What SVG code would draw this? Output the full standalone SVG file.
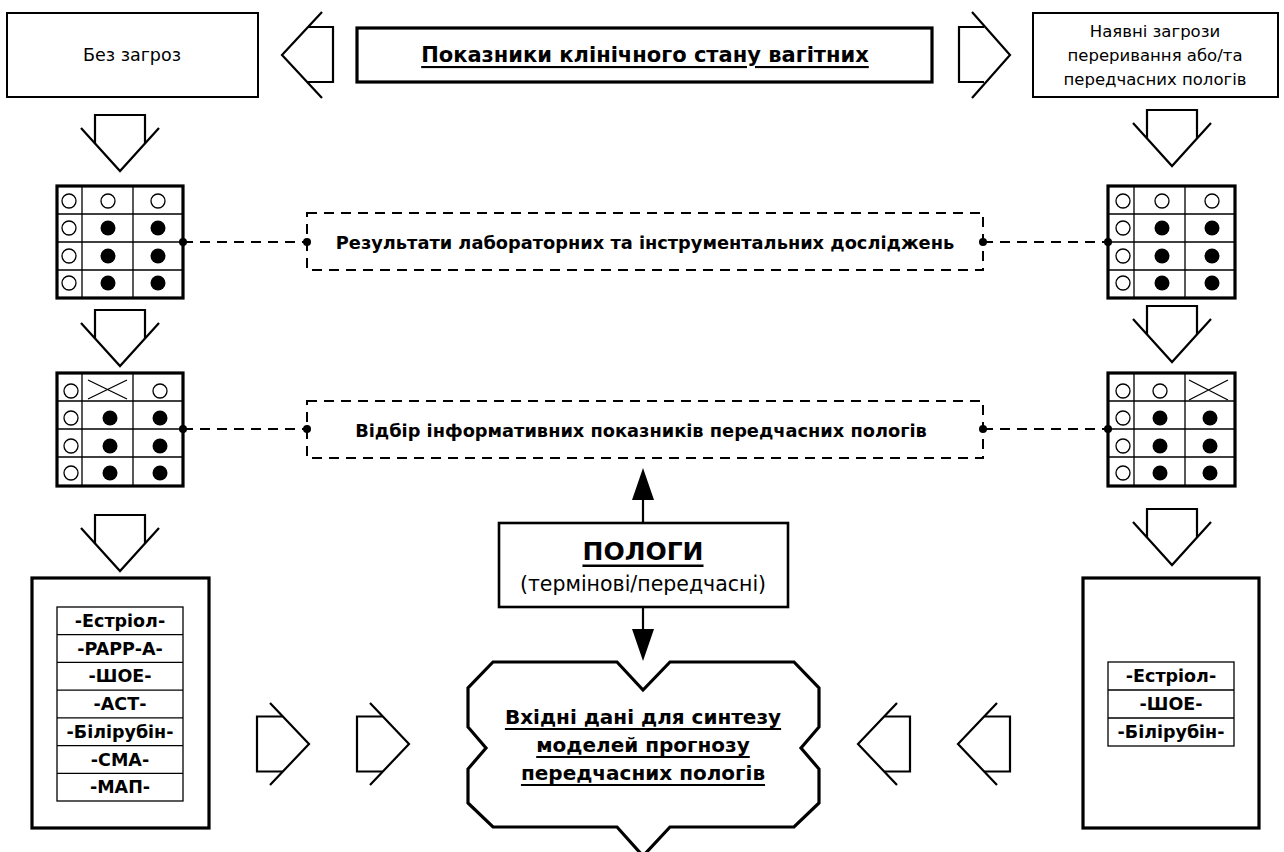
<svg xmlns="http://www.w3.org/2000/svg" width="1284" height="852" viewBox="0 0 1284 852">
<style>
.bg{fill:#fff}
.box{fill:#fff;stroke:#000;stroke-width:2}
.thick{fill:#fff;stroke:#000;stroke-width:3.2}
.ln{fill:none;stroke:#000;stroke-width:2.2;stroke-linejoin:miter}
.thin{fill:none;stroke:#000;stroke-width:1.3}
.dash{fill:none;stroke:#000;stroke-width:2;stroke-dasharray:10 7}
.oc{fill:#fff;stroke:#000;stroke-width:1.3}
.fc{fill:#000}
.t{font-family:"DejaVu Sans",Verdana,sans-serif;fill:#000;text-anchor:middle;dominant-baseline:central}
.n15{font-size:16.5px}
.b16{font-size:17.8px;font-weight:bold}
.b15{font-size:17.5px;font-weight:bold}
.u{text-decoration:underline}
</style>
<defs>
<g id="darrow">
<path class="ln" d="M-25,28.4 V0 H25 V28.4"/>
<path class="ln" d="M-39,13 L0,56 L39,13"/>
</g>
<g id="rarrow">
<path class="ln" d="M-26.5,-27.5 H-52 V27.5 H-26.5"/>
<path class="ln" d="M-39,-41 L0,0 L-39,41"/>
</g>
<g id="larrow">
<path class="ln" d="M26.5,-27.5 H52 V27.5 H26.5"/>
<path class="ln" d="M39,-41 L0,0 L39,41"/>
</g>
</defs>
<rect class="bg" x="0" y="0" width="1284" height="852"/>

<g id="top-title">
<rect class="thick" x="357" y="28" width="575" height="54"/>
<text class="t u" x="645" y="55" style="font-size:21px;font-weight:bold">Показники клінічного стану вагітних</text>
</g>
<g id="no-threat">
<rect class="box" x="7" y="13" width="251" height="84"/>
<text class="t" x="132" y="55" style="font-size:17.5px">Без загроз</text>
</g>
<g id="threat">
<rect class="box" x="1033" y="13" width="245" height="84"/>
<text class="t n15" x="1155" y="31">Наявні загрози</text>
<text class="t n15" x="1155" y="55">переривання або/та</text>
<text class="t n15" x="1155" y="79">передчасних пологів</text>
</g>

<g id="arrows">
<g transform="translate(282,55)">
<path class="ln" d="M26,-28 H51 V27 H26"/>
<path class="ln" d="M40,-43 L0,0 L40,43"/>
</g>
<g transform="translate(1010,55)">
<path class="ln" d="M-26,-28 H-51 V27 H-26"/>
<path class="ln" d="M-38,-43 L0,0 L-38,43"/>
</g>
<use href="#darrow" x="120" y="115"/>
<use href="#darrow" x="120" y="310"/>
<use href="#darrow" x="120" y="515"/>
<use href="#darrow" x="1172" y="110"/>
<use href="#darrow" x="1172" y="306"/>
<use href="#darrow" x="1172" y="509"/>
<use href="#rarrow" x="309" y="744"/>
<use href="#rarrow" x="409" y="744"/>
<use href="#larrow" x="858" y="744"/>
<use href="#larrow" x="958" y="744"/>
</g>

<g id="grid-left-1">
<rect class="thick" x="57" y="186" width="126" height="112"/>
<path class="thin" d="M82,186 V298 M133,186 V298 M57,214 H183 M57,242 H183 M57,270 H183"/>
<circle class="oc" cx="69" cy="201" r="7"/><circle class="oc" cx="108" cy="201" r="7"/><circle class="oc" cx="158" cy="201" r="7"/>
<circle class="oc" cx="69" cy="228" r="7"/><circle class="fc" cx="108" cy="228" r="7.5"/><circle class="fc" cx="158" cy="228" r="7.5"/>
<circle class="oc" cx="69" cy="256" r="7"/><circle class="fc" cx="108" cy="256" r="7.5"/><circle class="fc" cx="158" cy="256" r="7.5"/>
<circle class="oc" cx="69" cy="283" r="7"/><circle class="fc" cx="108" cy="283" r="7.5"/><circle class="fc" cx="158" cy="283" r="7.5"/>
</g>
<g id="grid-left-2">
<rect class="thick" x="57" y="373" width="126" height="113"/>
<path class="thin" d="M82,373 V486 M133,373 V486 M57,401 H183 M57,429 H183 M57,457 H183"/>
<path class="thin" d="M88,380 L127,399 M88,399 L127,380"/>
<circle class="oc" cx="71" cy="391" r="7"/><circle class="oc" cx="160" cy="391" r="7"/>
<circle class="oc" cx="71" cy="418" r="7"/><circle class="fc" cx="110" cy="418" r="7.5"/><circle class="fc" cx="160" cy="418" r="7.5"/>
<circle class="oc" cx="71" cy="446" r="7"/><circle class="fc" cx="110" cy="446" r="7.5"/><circle class="fc" cx="160" cy="446" r="7.5"/>
<circle class="oc" cx="71" cy="473" r="7"/><circle class="fc" cx="110" cy="473" r="7.5"/><circle class="fc" cx="160" cy="473" r="7.5"/>
</g>
<g id="grid-right-1">
<rect class="thick" x="1108" y="186" width="127" height="112"/>
<path class="thin" d="M1134,186 V298 M1185,186 V298 M1108,214 H1235 M1108,242 H1235 M1108,270 H1235"/>
<circle class="oc" cx="1123" cy="201" r="7"/><circle class="oc" cx="1162" cy="201" r="7"/><circle class="oc" cx="1212" cy="201" r="7"/>
<circle class="oc" cx="1123" cy="228" r="7"/><circle class="fc" cx="1162" cy="228" r="7.5"/><circle class="fc" cx="1212" cy="228" r="7.5"/>
<circle class="oc" cx="1123" cy="256" r="7"/><circle class="fc" cx="1162" cy="256" r="7.5"/><circle class="fc" cx="1212" cy="256" r="7.5"/>
<circle class="oc" cx="1123" cy="283" r="7"/><circle class="fc" cx="1162" cy="283" r="7.5"/><circle class="fc" cx="1212" cy="283" r="7.5"/>
</g>
<g id="grid-right-2">
<rect class="thick" x="1108" y="373" width="127" height="113"/>
<path class="thin" d="M1134,373 V486 M1185,373 V486 M1108,401 H1235 M1108,429 H1235 M1108,457 H1235"/>
<path class="thin" d="M1189,380 L1228,400 M1189,400 L1228,380"/>
<circle class="oc" cx="1123" cy="391" r="7"/><circle class="oc" cx="1160" cy="391" r="7"/>
<circle class="oc" cx="1123" cy="418" r="7"/><circle class="fc" cx="1160" cy="418" r="7.5"/><circle class="fc" cx="1210" cy="418" r="7.5"/>
<circle class="oc" cx="1123" cy="446" r="7"/><circle class="fc" cx="1160" cy="446" r="7.5"/><circle class="fc" cx="1210" cy="446" r="7.5"/>
<circle class="oc" cx="1123" cy="473" r="7"/><circle class="fc" cx="1160" cy="473" r="7.5"/><circle class="fc" cx="1210" cy="473" r="7.5"/>
</g>

<g id="lab-results">
<rect class="dash" x="307" y="213" width="676" height="57"/>
<text class="t b16" x="645" y="242">Результати лабораторних та інструментальних досліджень</text>
</g>
<g id="selection">
<rect class="dash" x="307" y="401" width="676" height="57"/>
<text class="t b16" x="641" y="430">Відбір інформативних показників передчасних пологів</text>
</g>

<g id="connectors">
<path class="dash" d="M183,242 H307 M983,242 H1108 M183,429 H307 M983,429 H1108"/>
<circle class="fc" cx="183" cy="242" r="4"/><circle class="fc" cx="307" cy="242" r="4"/>
<circle class="fc" cx="983" cy="242" r="4"/><circle class="fc" cx="1108" cy="242" r="4"/>
<circle class="fc" cx="183" cy="429" r="4"/><circle class="fc" cx="307" cy="429" r="4"/>
<circle class="fc" cx="983" cy="429" r="4"/><circle class="fc" cx="1108" cy="429" r="4"/>
<path class="ln" d="M643,523 V498 M643,607 V632"/>
<path class="fc" d="M643,468 L632,500 L654,500 Z"/>
<path class="fc" d="M643,661 L632,629 L654,629 Z"/>
</g>

<g id="births">
<rect class="box" style="stroke-width:2.6" x="499" y="523" width="289" height="84"/>
<text class="t u" x="643" y="551" style="font-size:25px;font-weight:bold">ПОЛОГИ</text>
<text class="t" x="643" y="584" style="font-size:20.5px">(термінові/передчасні)</text>
</g>

<g id="input-data">
<path class="thick" d="M493,662 H617 L643,690 L670,662 H794 L819,688 V727 L801,748 L819,769 V803 L794,827 H670 L643,856 L617,827 H493 L468,803 V769 L486,748 L468,727 V688 Z"/>
<text class="t u" x="643" y="717" style="font-size:20px;font-weight:bold">Вхідні дані для синтезу</text>
<text class="t u" x="643" y="745" style="font-size:20px;font-weight:bold">моделей прогнозу</text>
<text class="t u" x="643" y="773" style="font-size:20px;font-weight:bold">передчасних пологів</text>
</g>

<g id="list-left">
<rect class="thick" x="32" y="578" width="177" height="250"/>
<rect class="thin" x="57" y="607" width="126" height="194"/>
<path class="thin" d="M57,634.7 H183 M57,662.4 H183 M57,690.1 H183 M57,717.9 H183 M57,745.6 H183 M57,773.3 H183"/>
<text class="t b15" x="120" y="621">-Естріол-</text>
<text class="t b15" x="120" y="648.5">-PAPP-A-</text>
<text class="t b15" x="120" y="676">-ШОЕ-</text>
<text class="t b15" x="120" y="704">-АСТ-</text>
<text class="t b15" x="120" y="732">-Білірубін-</text>
<text class="t b15" x="120" y="759.5">-СМА-</text>
<text class="t b15" x="120" y="787">-МАП-</text>
</g>
<g id="list-right">
<rect class="thick" x="1083" y="578" width="176" height="250"/>
<rect class="thin" x="1108" y="662" width="126" height="84"/>
<path class="thin" d="M1108,690 H1234 M1108,718 H1234"/>
<text class="t b15" x="1171" y="676">-Естріол-</text>
<text class="t b15" x="1171" y="704">-ШОЕ-</text>
<text class="t b15" x="1171" y="732">-Білірубін-</text>
</g>
</svg>
